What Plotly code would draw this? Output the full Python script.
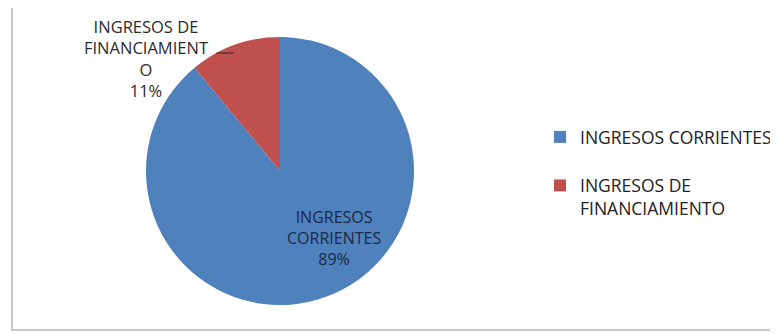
import plotly.graph_objects as go

# Data
categories = ["INGRESOS CORRIENTES", "INGRESOS DE FINANCIAMIENTO"]
legend_labels = ["INGRESOS CORRIENTES<br> ", "INGRESOS DE<br>FINANCIAMIENTO"]
slice_labels = ["INGRESOS<br>CORRIENTES", "INGRESOS DE<br>FINANCIAMIENT<br>O"]
values = [89, 11]
colors = ["#4F81BD", "#C0504D"]

# page offset (body margin) and figure size
OFF = 8
W, H = 778 - OFF, 334 - OFF


def X(px):
    return (px - OFF) / W


def Y(py):
    return 1 - (py - OFF) / H


cx, cy, r = 280, 171, 134

total = sum(values)
pcts = [round(v / total * 100) for v in values]

fig = go.Figure()
fig.add_trace(go.Pie(
    labels=legend_labels,
    values=values,
    sort=False,
    direction="clockwise",
    rotation=0,
    marker=dict(colors=colors, line=dict(width=0)),
    textinfo="none",
    domain=dict(x=[X(cx - r), X(cx + r)], y=[Y(cy + r), Y(cy - r)]),
    hoverinfo="label+percent",
    showlegend=True,
))

# label inside the large slice
fig.add_annotation(
    x=X(334), y=Y(238), xref="paper", yref="paper",
    xanchor="center", yanchor="middle",
    text=f"{slice_labels[0]}<br>{pcts[0]}%",
    showarrow=False, align="center",
    font=dict(family="Open Sans", size=16, color="#1c2846"),
)

# outside label for the small slice
fig.add_annotation(
    x=X(146), y=Y(59), xref="paper", yref="paper",
    xanchor="center", yanchor="middle",
    text=f"{slice_labels[1]}<br>{pcts[1]}%",
    showarrow=False, align="center",
    font=dict(family="Open Sans", size=16.5, color="#2b2b2b"),
)
# leader line
fig.add_annotation(
    x=X(234), y=Y(53), xref="paper", yref="paper",
    ax=-19, ay=0, axref="pixel", ayref="pixel",
    text="", showarrow=True, arrowhead=0, arrowwidth=1.2,
    arrowcolor="#222222", standoff=0, startstandoff=0,
)

# chart border
fig.add_shape(type="rect", xref="paper", yref="paper",
              x0=X(12), x1=1.01, y0=Y(330), y1=Y(5),
              line=dict(color="#b4b4b4", width=1.5))

fig.update_layout(
    width=W, height=H,
    margin=dict(l=0, r=0, t=0, b=0),
    paper_bgcolor="white",
    plot_bgcolor="white",
    font=dict(family="Open Sans", size=17.5, color="#222222"),
    legend=dict(x=X(540), y=Y(119), xanchor="left", yanchor="top",
                valign="top", bgcolor="rgba(0,0,0,0)",
                font=dict(family="Open Sans", size=17.5, color="#222222")),
)

fig.write_html("out.html")
